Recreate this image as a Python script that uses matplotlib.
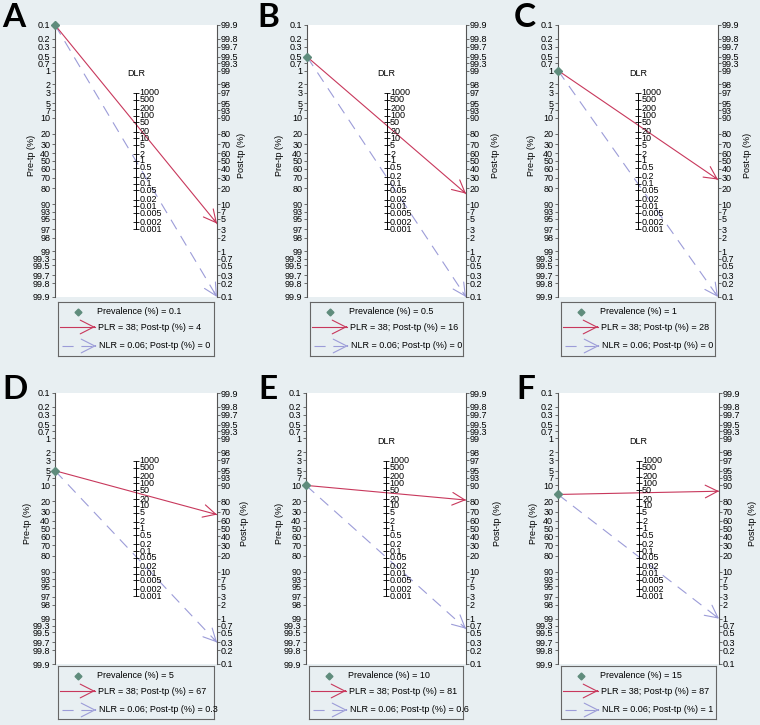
import numpy as np
import matplotlib
matplotlib.use('Agg')
import matplotlib.pyplot as plt

# ---------------- data ----------------
panel_labels = ['A', 'B', 'C', 'D', 'E', 'F']
prevalence = [0.1, 0.5, 1, 5, 10, 15]
plr = [38, 38, 38, 38, 38, 38]
nlr = [0.06, 0.06, 0.06, 0.06, 0.06, 0.06]
post_pos = [4, 16, 28, 67, 81, 87]
post_neg = [0, 0, 0, 0.3, 0.6, 1]
show_dlr = [True, True, True, False, True, True]
prob_ticks = [0.1, 0.2, 0.3, 0.5, 0.7, 1, 2, 3, 5, 7, 10, 20, 30, 40, 50, 60,
              70, 80, 90, 93, 95, 97, 98, 99, 99.3, 99.5, 99.7, 99.8, 99.9]
lr_ticks = [1000, 500, 200, 100, 50, 20, 10, 5, 2, 1, 0.5, 0.2, 0.1, 0.05,
            0.02, 0.01, 0.005, 0.002, 0.001]

# ---------------- style / layout ----------------
W, H = 760, 725
BG = '#e8eff2'
RED = '#c8385c'
BLUE = '#9c9cd8'
GREEN = '#5f8c7c'
AXC = '#555555'
FS = 6.5
plt.rcParams['font.family'] = ['Liberation Sans', 'DejaVu Sans']

ax_px = [(55, 217, 25, 297), (307, 466, 25, 297), (558, 718, 25, 297),
         (55, 217, 393, 664), (306, 466, 393, 664), (558, 719, 393, 664)]
leg_py = [(302, 356), (302, 356), (302, 356), (666, 719), (666, 719), (666, 719)]
letter_px = [(2, 3), (257, 3), (514, 3), (2, 375), (258, 375), (516, 375)]
post_lab_off = [25, 29, 29, 28, 32, 34]
pre_lab_off = [-24, -27, -26, -27, -26, -25]

PMIN, PMAX = 0.1, 99.9


def logit(p):
    p = min(max(p, PMIN), PMAX)
    return np.log(p / (100.0 - p))


fig = plt.figure(figsize=(W / 100, H / 100), dpi=100)
fig.patch.set_facecolor(BG)


def arrow_head(ax, x0, y0, x1, y1, color, scale=12):
    xs = x1 - 0.02 * (x1 - x0)
    ys = y1 - 0.02 * (y1 - y0)
    ax.annotate('', xy=(x1, y1), xytext=(xs, ys), annotation_clip=False,
                arrowprops=dict(arrowstyle='->,head_length=0.75,head_width=0.38',
                                color=color, lw=0.8, shrinkA=0, shrinkB=0,
                                mutation_scale=scale))


for i in range(6):
    L, R, T, B = ax_px[i]
    wpx = R - L
    ax = fig.add_axes([L / W, 1 - B / H, (R - L) / W, (B - T) / H])
    ax.set_facecolor('white')
    ylo, yhi = logit(PMAX), logit(PMIN)
    ax.set_xlim(0, 1)
    ax.set_ylim(ylo, yhi)  # inverted: 0.1 % at top
    ax.set_xticks([])
    for s in ['top', 'bottom']:
        ax.spines[s].set_visible(False)
    ax.spines['right'].set_visible(False)
    ax.spines['left'].set_color(AXC)
    ax.spines['left'].set_linewidth(0.8)

    # left axis: pre-test probability
    ax.set_yticks([logit(p) for p in prob_ticks])
    ax.set_yticklabels(['%g' % p for p in prob_ticks])
    ax.tick_params(axis='y', direction='out', length=2.2, width=0.6,
                   pad=1.2, labelsize=FS, color=AXC)

    # right axis: post-test probability
    ax2 = ax.twinx()
    ax2.set_ylim(ylo, yhi)
    ax2.set_yticks([-logit(p) for p in prob_ticks])
    ax2.set_yticklabels(['%g' % p for p in prob_ticks])
    ax2.tick_params(axis='y', direction='out', length=2.2, width=0.6,
                    pad=0.5, labelsize=FS, color=AXC)
    for s in ['top', 'bottom', 'left']:
        ax2.spines[s].set_visible(False)
    ax2.spines['right'].set_color(AXC)
    ax2.spines['right'].set_linewidth(0.8)

    # middle axis: likelihood ratio
    ymid = [-np.log(v) / 2 for v in lr_ticks]
    ax.plot([0.5, 0.5], [ymid[0], ymid[-1]], color='black', lw=0.7, zorder=3)
    ax.plot([0.5] * len(ymid), ymid, ls='none', marker='_', ms=4.5,
            mew=0.6, color='black', zorder=3)
    for v, y in zip(lr_ticks, ymid):
        ax.annotate('%g' % v, xy=(0.5, y), xytext=(2.6, 0),
                    textcoords='offset points', ha='left', va='center',
                    fontsize=FS, zorder=4)
    if show_dlr[i]:
        ax.text(0.5, 0.82, 'DLR', transform=ax.transAxes, ha='center',
                va='center', fontsize=FS)

    # axis titles
    ax.text(pre_lab_off[i] / wpx, 0.52, 'Pre-tp (%)', rotation=90,
            transform=ax.transAxes, ha='center', va='center', fontsize=FS)
    ax.text(1 + post_lab_off[i] / wpx, 0.52, 'Post-tp (%)', rotation=90,
            transform=ax.transAxes, ha='center', va='center', fontsize=FS)

    # lines
    y0 = logit(prevalence[i])
    yp = -logit(post_pos[i])
    yn = -logit(post_neg[i])
    ax.plot([0, 1], [y0, yn], color=BLUE, lw=0.8, ls=(0, (10, 7)),
            clip_on=False, zorder=2)
    arrow_head(ax, 0, y0, 1, yn, BLUE)
    ax.plot([0, 1], [y0, yp], color=RED, lw=0.8, clip_on=False, zorder=2)
    arrow_head(ax, 0, y0, 1, yp, RED)
    ax.plot([0], [y0], marker='D', ms=4, color=GREEN, clip_on=False, zorder=5)

    # legend box
    lt, lb = leg_py[i]
    ll, lr_ = L + 3, R - 3
    lw_, lh = lr_ - ll, lb - lt
    lax = fig.add_axes([ll / W, 1 - lb / H, lw_ / W, lh / H])
    lax.set_facecolor('none')
    lax.set_xlim(0, lw_)
    lax.set_ylim(lh, 0)
    lax.set_xticks([])
    lax.set_yticks([])
    for s in lax.spines.values():
        s.set_color('#666666')
        s.set_linewidth(0.8)
    lax.plot([20], [10], marker='D', ms=3.5, color=GREEN)
    lax.text(39, 10, 'Prevalence (%%) = %g' % prevalence[i], fontsize=FS,
             va='center', ha='left')
    lax.plot([2, 37], [25, 25], color=RED, lw=0.8)
    arrow_head(lax, 2, 25, 37, 25, RED, scale=13)
    lax.text(40, 25, 'PLR = %g; Post-tp (%%) = %g' % (plr[i], post_pos[i]),
             fontsize=FS, va='center', ha='left')
    lax.plot([4, 38], [44, 44], color=BLUE, lw=0.8, ls=(0, (10, 7)))
    arrow_head(lax, 4, 44, 38, 44, BLUE, scale=13)
    lax.text(41, 44, 'NLR = %g; Post-tp (%%) = %g' % (nlr[i], post_neg[i]),
             fontsize=FS, va='center', ha='left')

    # panel letter
    lx, ly = letter_px[i]
    fig.text(lx / W, 1 - ly / H, panel_labels[i], fontsize=24,
             fontweight='bold', family=['Lato', 'DejaVu Sans'],
             ha='left', va='top')

fig.savefig('out.png', dpi=100, facecolor=BG)
